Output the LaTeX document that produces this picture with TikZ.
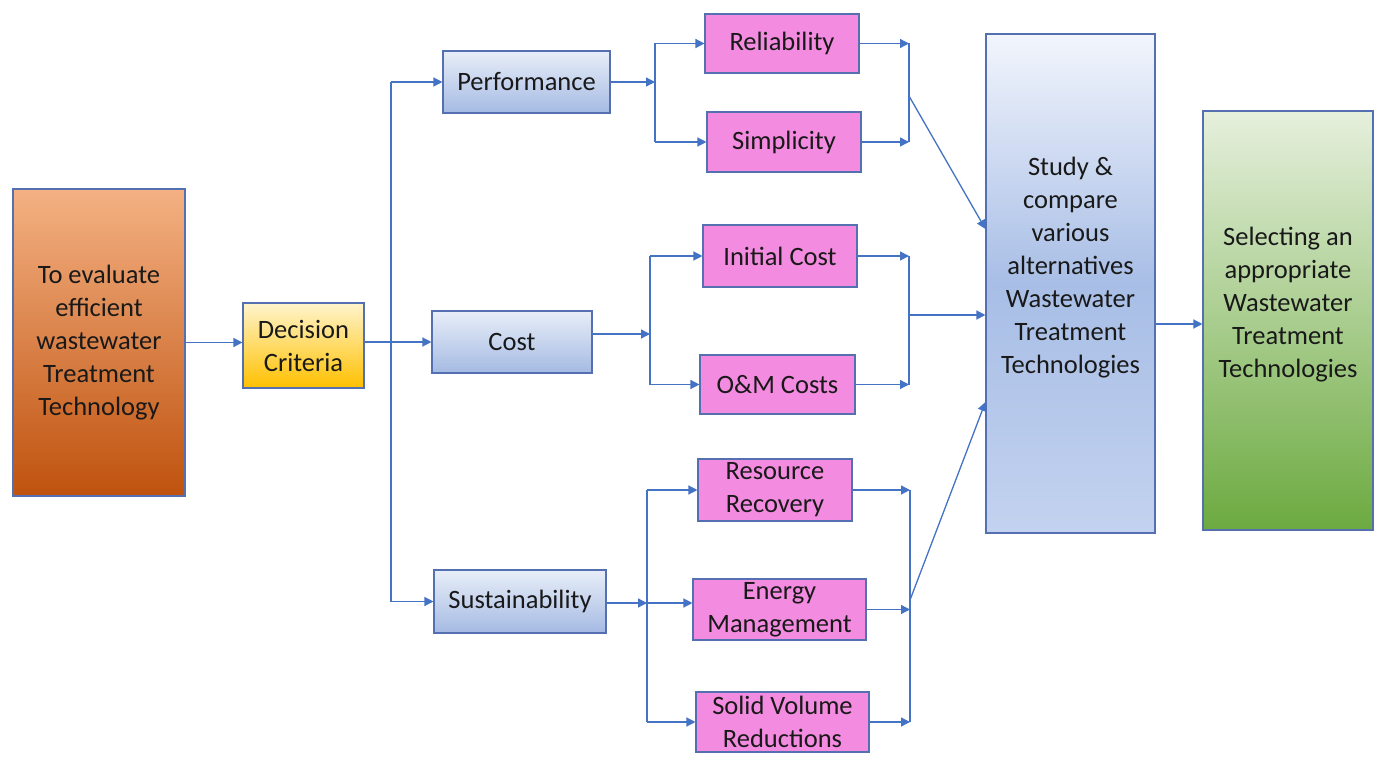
\documentclass[tikz,border=0pt]{standalone}
\usepackage{fontspec}
\setmainfont{Carlito}
\usetikzlibrary{arrows.meta}
\definecolor{wwArrow}{HTML}{4472C4}
\definecolor{wwEdge}{HTML}{5470B0}
\definecolor{wwPink}{HTML}{F38BE0}
\definecolor{wwBlueTop}{HTML}{E8EEF8}
\definecolor{wwBlueBot}{HTML}{A5BAE3}
\definecolor{wwOrangeTop}{HTML}{F4B183}
\definecolor{wwOrangeBot}{HTML}{BF520E}
\definecolor{wwYellowTop}{HTML}{FFF4CC}
\definecolor{wwYellowBot}{HTML}{FFC000}
\definecolor{wwGreenTop}{HTML}{E6F0DD}
\definecolor{wwGreenBot}{HTML}{6CAA40}
\definecolor{wwStudyTop}{HTML}{F2F5FC}
\definecolor{wwStudyMid}{HTML}{A8BEE6}
\definecolor{wwStudyBot}{HTML}{C3D2EF}

\begin{document}
\begin{tikzpicture}[x=1pt,y=-1pt,
  txt/.style={align=center,font=\fontsize{26.5}{33}\selectfont,text=black!90},
  wwbox/.style={txt,draw=wwEdge,line width=1.1pt,inner sep=0pt},
  subbox/.style={wwbox,fill=wwPink},
  mainbox/.style={wwbox,top color=wwBlueTop,bottom color=wwBlueBot},
  link/.style={wwArrow,line width=1.3pt},
  arr/.style={link,-{Triangle[length=9pt,width=9pt]}}]
\useasboundingbox (0,0) rectangle (1384,762);

% start and criteria
\node[wwbox,top color=wwOrangeTop,bottom color=wwOrangeBot,minimum width=172pt,minimum height=307pt] (eval) at (99,342.5) {To evaluate\\efficient\\wastewater\\Treatment\\Technology};
\node[wwbox,top color=wwYellowTop,bottom color=wwYellowBot,minimum width=121pt,minimum height=85pt] (decision) at (303.5,345.5) {Decision\\Criteria};

% main criteria
\node[mainbox,minimum width=167pt,minimum height=62pt] (perf) at (526.5,82) {Performance};
\node[mainbox,minimum width=160pt,minimum height=62pt] (cost) at (512,342) {Cost};
\node[mainbox,minimum width=172pt,minimum height=63pt] (sust) at (520,601.5) {Sustainability};

% sub criteria
\node[subbox,minimum width=154pt,minimum height=59pt] (rel) at (782,43.5) {Reliability};
\node[subbox,minimum width=154pt,minimum height=60pt] (simp) at (784,142) {Simplicity};
\node[subbox,minimum width=154pt,minimum height=62pt] (init) at (780,256) {Initial Cost};
\node[subbox,minimum width=155pt,minimum height=59pt] (om) at (777.5,384.5) {O\&M Costs};
\node[subbox,minimum width=154pt,minimum height=62pt] (res) at (775,490) {Resource\\Recovery};
\node[subbox,minimum width=173pt,minimum height=61pt] (ener) at (779.5,609.5) {Energy\\Management};
\node[subbox,minimum width=173pt,minimum height=60pt] (solid) at (782.5,722) {Solid Volume\\Reductions};

% study and selection
\node[wwbox,top color=wwStudyTop,bottom color=wwStudyBot,middle color=wwStudyMid,minimum width=169pt,minimum height=499pt,
  label={[txt,yshift=15.5pt]center:Study \&\\compare\\various\\alternatives\\Wastewater\\Treatment\\Technologies}] (study) at (1070.5,283.5) {};
\node[wwbox,top color=wwGreenTop,bottom color=wwGreenBot,minimum width=170pt,minimum height=419pt,
  label={[txt,yshift=15.5pt]center:Selecting an\\appropriate\\Wastewater\\Treatment\\Technologies}] (sel) at (1288,320.5) {};

% left part
\coordinate (trunk) at (391,342);
\draw[arr] (eval.east) -- (eval.east -| decision.west);
\draw[arr] (decision.east |- cost) -- (cost.west);
\draw[link] (trunk |- perf) -- (trunk |- sust);
\draw[arr] (trunk |- perf) -- (perf.west);
\draw[arr] (trunk |- sust) -- (sust.west);

% forks
\coordinate (pfork) at (655,82);
\coordinate (cfork) at (650,334);
\coordinate (sfork) at (647,603);
\draw[arr] (perf.east) -- (pfork);
\draw[link] (pfork |- rel) -- (pfork |- simp);
\draw[arr] (pfork |- rel) -- (rel.west);
\draw[arr] (pfork |- simp) -- (simp.west);
\draw[arr] (cost.east |- cfork) -- (cfork);
\draw[link] (cfork |- init) -- (cfork |- om);
\draw[arr] (cfork |- init) -- (init.west);
\draw[arr] (cfork |- om) -- (om.west);
\draw[arr] (sust.east |- sfork) -- (sfork);
\draw[link] (sfork |- res) -- (sfork |- solid);
\draw[arr] (sfork |- res) -- (res.west);
\draw[arr] (sfork) -- (sfork -| ener.west);
\draw[arr] (sfork |- solid) -- (solid.west);

% collectors
\coordinate (pcol) at (909,96);
\coordinate (ccol) at (909,315);
\coordinate (scol) at (910,600);
\coordinate (pin) at (0,229);
\coordinate (sin) at (0,402);
\coordinate (sout) at (0,324);
\draw[arr] (rel.east) -- (rel.east -| pcol);
\draw[arr] (simp.east) -- (simp.east -| pcol);
\draw[link] (pcol |- rel) -- (pcol |- simp);
\draw[arr] (pcol) -- (study.west |- pin);
\draw[arr] (init.east) -- (init.east -| ccol);
\draw[arr] (om.east) -- (om.east -| ccol);
\draw[link] (ccol |- init) -- (ccol |- om);
\draw[arr] (ccol) -- (ccol -| study.west);
\draw[arr] (res.east) -- (res.east -| scol);
\draw[arr] (ener.east) -- (ener.east -| scol);
\draw[arr] (solid.east) -- (solid.east -| scol);
\draw[link] (scol |- res) -- (scol |- solid);
\draw[arr] (scol) -- (study.west |- sin);
\draw[arr] (study.east |- sout) -- (sel.west |- sout);
\end{tikzpicture}
\end{document}
